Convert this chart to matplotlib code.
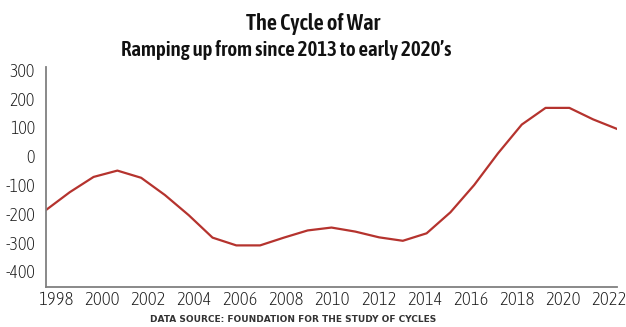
import numpy as np
import matplotlib.pyplot as plt
from matplotlib import font_manager

years = [1998, 1999, 2000, 2001, 2002, 2003, 2004, 2005, 2006, 2007, 2008, 2009,
         2010, 2011, 2012, 2013, 2014, 2015, 2016, 2017, 2018, 2019, 2020, 2021, 2022]
war_cycle = [-187, -125, -72, -50, -75, -135, -205, -283, -310, -310, -283, -258,
             -248, -262, -282, -294, -268, -195, -100, 10, 110, 168, 168, 128, 95]
year_labels = [str(y) for y in range(1998, 2023, 2)]
y_ticks = [300, 200, 100, 0, -100, -200, -300, -400]

plt.rcParams['axes.unicode_minus'] = False

# look for a condensed face, the original uses a narrow grotesque
cond = {}
for f in font_manager.fontManager.ttflist:
    st = str(f.stretch).lower()
    if 'condensed' in st or 'condensed' in f.fname.lower():
        cond.setdefault((f.name, f.weight if isinstance(f.weight, int) else str(f.weight)), f.fname)


def pick(bold):
    for (name, w), fn in sorted(cond.items()):
        wb = (w == 'bold' or (isinstance(w, int) and w >= 600))
        if 'Oblique' in fn or 'Italic' in fn:
            continue
        if wb == bold:
            return font_manager.FontProperties(fname=fn)
    return font_manager.FontProperties(family='DejaVu Sans', weight='bold' if bold else 'normal')


reg = pick(False)
bld = pick(True)

fig = plt.figure(figsize=(6.26, 3.27), dpi=100)
ax = fig.add_axes([0.0735, 0.122, 0.912, 0.673])

ax.plot(years, war_cycle, color='#b5332e', linewidth=1.6)

ax.set_xlim(1998, 2022)
ax.set_ylim(-455, 310)

# labels sit slightly inside the data range, like the original
ax.set_xticks(np.linspace(1998.42, 2021.66, len(year_labels)))
ax.set_xticklabels(year_labels)
ax.set_yticks(y_ticks)
ax.set_yticklabels([str(v) for v in y_ticks])
ax.tick_params(axis='both', length=0, colors='#1a1a1a')
ax.tick_params(axis='y', pad=8)
ax.tick_params(axis='x', pad=3)
for lab in ax.get_xticklabels():
    lab.set_fontproperties(reg)
    lab.set_fontsize(13.5)
for lab in ax.get_yticklabels():
    lab.set_fontproperties(reg)
    lab.set_fontsize(13)

for s in ['top', 'right']:
    ax.spines[s].set_visible(False)
for s in ['left', 'bottom']:
    ax.spines[s].set_color('#808080')
    ax.spines[s].set_linewidth(1.3)

fig.text(0.5, 0.927, 'The Cycle of War', ha='center', va='center',
         fontproperties=bld, fontsize=16.2, color='#111111')
fig.text(0.458, 0.847, 'Ramping up from since 2013 to early 2020\u2019s', ha='center',
         va='center', fontproperties=bld, fontsize=15, color='#111111')
fig.text(0.468, 0.024, 'DATA SOURCE: FOUNDATION FOR THE STUDY OF CYCLES', ha='center',
         va='center', fontsize=6.5, fontweight='bold', color='#333333')

fig.savefig('out.png', dpi=100)
